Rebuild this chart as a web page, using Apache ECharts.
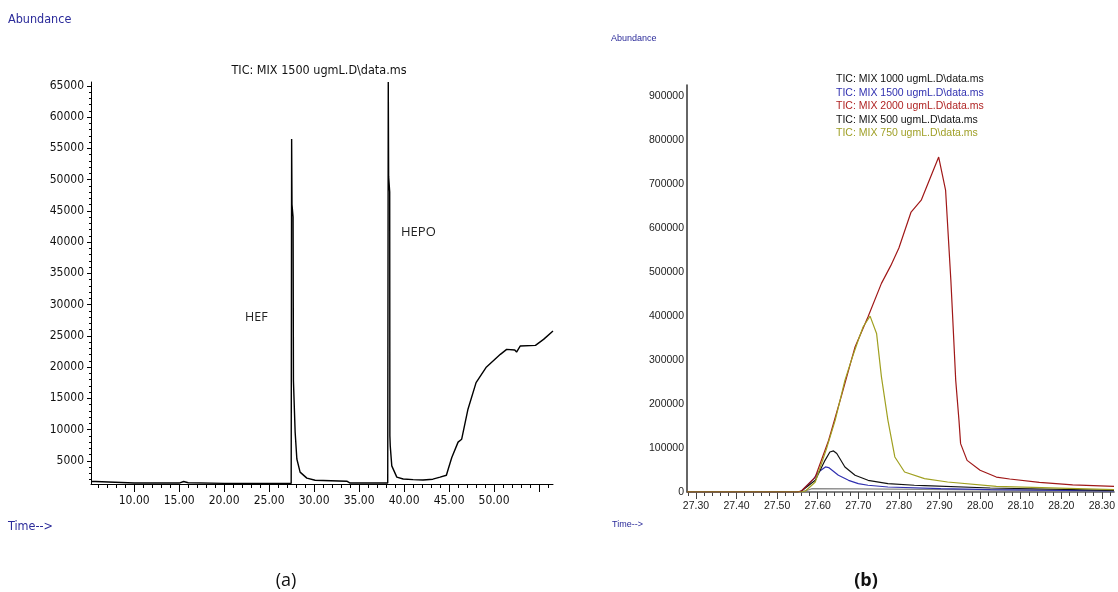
<!DOCTYPE html>
<html>
<head>
<meta charset="utf-8">
<title>TIC chromatograms</title>
<script src="https://cdn.jsdelivr.net/npm/echarts@6/dist/echarts.min.js"></script>
<style>
  html, body { margin: 0; padding: 0; background: #fff; }
  #chart { width: 1118px; height: 592px; }
</style>
</head>
<body>
<div id="chart"></div>
<script>
// ---- (a) full run, MIX 1500 ugmL : [time min, abundance]
var mix1500Full = [
  [5.2, 1700], [5.7, 1700], [5.8, 1500], [10, 1450], [15.0, 1450], [15.5, 1700],
  [15.7, 1950], [16.0, 1500], [20, 1400], [27.45, 1400], [27.50, 56500], [27.54, 46000],
  [27.66, 44000], [27.70, 17800], [27.89, 9600], [28.08, 5300], [28.44, 3200],
  [29.19, 2240], [30.11, 1900], [33.63, 1750], [34.0, 1450], [37.3, 1450], [37.5, 1700],
  [37.7, 1450], [38.18, 1450], [38.24, 65600], [38.28, 50500], [38.40, 48000],
  [38.42, 9000], [38.46, 7400], [38.63, 4200], [39.19, 2400], [39.9, 2100], [41.0, 2000],
  [42.1, 1950], [43.2, 2070], [44.0, 2400], [44.7, 2700], [44.9, 3670], [45.1, 3940],
  [45.3, 5540], [46.0, 8000], [46.4, 8470], [47.1, 13260], [48.0, 17520], [49.1, 19920],
  [50.7, 22040], [51.4, 22840], [52.3, 22730], [52.5, 22400], [52.9, 23370], [54.6, 23480],
  [55.5, 24430], [56.55, 25760]
];

// ---- (b) zoom on the 27.3-28.3 min peak, five concentrations
var mix500 = [
  [27.278, 0], [27.56, 0], [27.575, 4000], [27.586, 7700], [27.70, 7000], [27.86, 6000],
  [28.0, 5000], [28.33, 3000]
];
var mix750 = [
  [27.278, 0], [27.56, 0], [27.57, 2300], [27.594, 22800], [27.623, 102500], [27.643, 163000],
  [27.667, 254000], [27.683, 300000], [27.70, 345800], [27.712, 376000], [27.729, 400200],
  [27.745, 360800], [27.757, 262000], [27.773, 163000], [27.79, 79700], [27.814, 45600],
  [27.863, 30500], [27.92, 22800], [28.04, 13000], [28.33, 5500]
];
var mix1000 = [
  [27.278, 0], [27.55, 0], [27.56, 2300], [27.594, 26600], [27.618, 72000], [27.63, 91000],
  [27.639, 93400], [27.647, 87500], [27.667, 57000], [27.692, 38000], [27.724, 26600],
  [27.773, 19000], [27.838, 15300], [27.863, 14500], [28.025, 9100], [28.33, 3900]
];
var mix1500 = [
  [27.278, 0], [27.55, 0], [27.56, 2300], [27.59, 30000], [27.602, 45600], [27.619, 57000],
  [27.627, 55600], [27.651, 38000], [27.676, 26600], [27.70, 19000], [27.724, 15300],
  [27.773, 11400], [27.903, 7700], [28.025, 5500], [28.33, 2300]
];
var mix2000 = [
  [27.278, 0], [27.55, 0], [27.56, 2300], [27.594, 34000], [27.627, 117800], [27.66, 224000],
  [27.692, 330000], [27.724, 398700], [27.757, 474700], [27.78, 515000], [27.80, 555000],
  [27.83, 637000], [27.855, 664000], [27.898, 762000], [27.915, 687000], [27.928, 482000],
  [27.932, 407000], [27.94, 254000], [27.948, 163000], [27.952, 110000], [27.968, 72000],
  [28.0, 49400], [28.04, 34000], [28.073, 29600], [28.146, 22100], [28.228, 16000],
  [28.33, 13000]
];

// tick labels
var leftTimeLabels = [10, 15, 20, 25, 30, 35, 40, 45, 50];
var leftAbundLabels = [5000, 10000, 15000, 20000, 25000, 30000, 35000, 40000, 45000,
  50000, 55000, 60000, 65000];
var rightTimeLabels = [27.3, 27.4, 27.5, 27.6, 27.7, 27.8, 27.9, 28.0, 28.1, 28.2, 28.3];
var rightAbundLabels = [0, 100000, 200000, 300000, 400000, 500000, 600000, 700000,
  800000, 900000];

var legendNames = [
  'TIC: MIX 1000 ugmL.D\\data.ms',
  'TIC: MIX 1500 ugmL.D\\data.ms',
  'TIC: MIX 2000 ugmL.D\\data.ms',
  'TIC: MIX 500 ugmL.D\\data.ms',
  'TIC: MIX 750 ugmL.D\\data.ms'
];

// minor tick positions
function steps(from, to, step) {
  var out = [];
  for (var i = 0; from + i * step <= to + 1e-9; i++) out.push(+(from + i * step).toFixed(4));
  return out;
}
var leftTimeMinor = steps(6, 56, 1);
var leftTimeMajor = steps(10, 55, 5);
var leftAbundMinor = steps(2000, 65000, 1000);
var rightTimeMinor = steps(27.28, 28.32, 0.02);

var narrow = "'Liberation Sans Narrow', 'DejaVu Sans Condensed', sans-serif";
var arial = "'Liberation Sans', Arial, sans-serif";
var blueTxt = '#2b2b9a';
var plain = function (v) { return String(v); };

var chart = echarts.init(document.getElementById('chart'));

var option = {
  animation: false,
  backgroundColor: '#fff',
  grid: [
    { left: 91, top: 82, width: 462, height: 402 },
    { left: 687, top: 85, right: 0, height: 407 }
  ],
  legend: {
    orient: 'vertical',
    left: 826,
    top: 69,
    itemGap: 2.5,
    itemWidth: 0,
    itemHeight: 10,
    icon: 'none',
    selectedMode: false,
    textStyle: { fontFamily: arial, fontSize: 10.5, padding: 0 },
    data: [
      { name: legendNames[0], textStyle: { color: '#111' } },
      { name: legendNames[1], textStyle: { color: '#3030b0' } },
      { name: legendNames[2], textStyle: { color: '#b02424' } },
      { name: legendNames[3], textStyle: { color: '#111' } },
      { name: legendNames[4], textStyle: { color: '#a0a028' } }
    ]
  },
  xAxis: [
    {
      gridIndex: 0, type: 'value', position: 'bottom', min: 5.2, max: 56.55,
      axisLine: { lineStyle: { color: '#000', width: 1 } },
      axisTick: { customValues: leftTimeMajor, length: 8, lineStyle: { color: '#000' } },
      axisLabel: {
        customValues: leftTimeLabels, margin: 11, color: '#111',
        fontFamily: narrow, fontSize: 12,
        formatter: function (v) { return v.toFixed(2); }
      },
      splitLine: { show: false }
    },
    {
      gridIndex: 0, type: 'value', position: 'bottom', min: 5.2, max: 56.55,
      axisLine: { show: false },
      axisTick: { customValues: leftTimeMinor, length: 4, lineStyle: { color: '#000' } },
      axisLabel: { show: false },
      splitLine: { show: false }
    },
    {
      gridIndex: 1, type: 'value', position: 'bottom', min: 27.278, max: 28.33,
      axisLine: { lineStyle: { color: '#555', width: 1.5 } },
      axisTick: { customValues: rightTimeLabels, length: 7, lineStyle: { color: '#444' } },
      axisLabel: {
        customValues: rightTimeLabels, margin: 9, color: '#222',
        fontFamily: arial, fontSize: 10.5,
        formatter: function (v) { return v.toFixed(2); }
      },
      splitLine: { show: false }
    },
    {
      gridIndex: 1, type: 'value', position: 'bottom', min: 27.278, max: 28.33,
      axisLine: { show: false },
      axisTick: { customValues: rightTimeMinor, length: 4, lineStyle: { color: '#444' } },
      axisLabel: { show: false },
      splitLine: { show: false }
    }
  ],
  yAxis: [
    {
      gridIndex: 0, type: 'value', position: 'left', min: 1300, max: 65600,
      axisLine: { show: true, lineStyle: { color: '#000' } },
      axisTick: { show: true, customValues: leftAbundLabels, length: 4, lineStyle: { color: '#000' } },
      axisLabel: {
        customValues: leftAbundLabels, margin: 7, color: '#111',
        fontFamily: narrow, fontSize: 12, formatter: plain
      },
      splitLine: { show: false }
    },
    {
      gridIndex: 0, type: 'value', position: 'left', min: 1300, max: 65600,
      axisLine: { show: false },
      axisTick: { show: true, customValues: leftAbundMinor, length: 2, lineStyle: { color: '#000' } },
      axisLabel: { show: false },
      splitLine: { show: false }
    },
    {
      gridIndex: 1, type: 'value', position: 'left', min: 0, max: 926000,
      axisLine: { show: true, lineStyle: { color: '#333', width: 1.5 } },
      axisTick: { show: false },
      axisLabel: {
        customValues: rightAbundLabels, margin: 3, color: '#222',
        fontFamily: arial, fontSize: 10.5, formatter: plain
      },
      splitLine: { show: false }
    }
  ],
  series: [
    {
      name: 'MIX 1500 full run', type: 'line', xAxisIndex: 0, yAxisIndex: 0,
      data: mix1500Full, showSymbol: false, smooth: false,
      lineStyle: { color: '#000', width: 1.4 }
    },
    {
      name: legendNames[3], type: 'line', xAxisIndex: 2, yAxisIndex: 2,
      data: mix500, showSymbol: false, color: '#111',
      lineStyle: { color: '#888', width: 1.3 }
    },
    {
      name: legendNames[1], type: 'line', xAxisIndex: 2, yAxisIndex: 2,
      data: mix1500, showSymbol: false, color: '#3030b0',
      lineStyle: { color: '#3030b0', width: 1.2 }
    },
    {
      name: legendNames[0], type: 'line', xAxisIndex: 2, yAxisIndex: 2,
      data: mix1000, showSymbol: false, color: '#111',
      lineStyle: { color: '#111', width: 1.2 }
    },
    {
      name: legendNames[2], type: 'line', xAxisIndex: 2, yAxisIndex: 2,
      data: mix2000, showSymbol: false, color: '#a01818',
      lineStyle: { color: '#a01818', width: 1.2 }
    },
    {
      name: legendNames[4], type: 'line', xAxisIndex: 2, yAxisIndex: 2,
      data: mix750, showSymbol: false, color: '#a0a020',
      lineStyle: { color: '#a0a020', width: 1.2 }
    }
  ],
  graphic: [
    { type: 'text', left: 8, top: 13, style: { text: 'Abundance', fill: blueTxt, font: '12.5px ' + narrow } },
    { type: 'text', left: 8, top: 520, style: { text: 'Time-->', fill: blueTxt, font: '12.5px ' + narrow } },
    { type: 'text', x: 319, y: 71, style: { text: 'TIC: MIX 1500 ugmL.D\\data.ms', fill: '#111', font: '12.5px ' + narrow, textAlign: 'center', textVerticalAlign: 'middle' } },
    { type: 'text', left: 245, top: 311, style: { text: 'HEF', fill: '#222', font: "12.5px 'Open Sans', sans-serif" } },
    { type: 'text', left: 401, top: 226, style: { text: 'HEPO', fill: '#222', font: "13px 'Open Sans', sans-serif" } },
    { type: 'text', left: 611, top: 34, style: { text: 'Abundance', fill: blueTxt, font: '9px ' + arial } },
    { type: 'text', left: 612, top: 520, style: { text: 'Time-->', fill: blueTxt, font: '9px ' + arial } },
    { type: 'text', x: 286, y: 581, style: { text: '(a)', fill: '#111', font: "18px 'Open Sans', sans-serif", textAlign: 'center', textVerticalAlign: 'middle' } },
    { type: 'text', x: 866, y: 581, style: { text: '(b)', fill: '#111', font: "bold 18px 'Open Sans', sans-serif", textAlign: 'center', textVerticalAlign: 'middle' } }
  ]
};

chart.setOption(option);
window.addEventListener('resize', function () { chart.resize(); });
</script>
</body>
</html>
